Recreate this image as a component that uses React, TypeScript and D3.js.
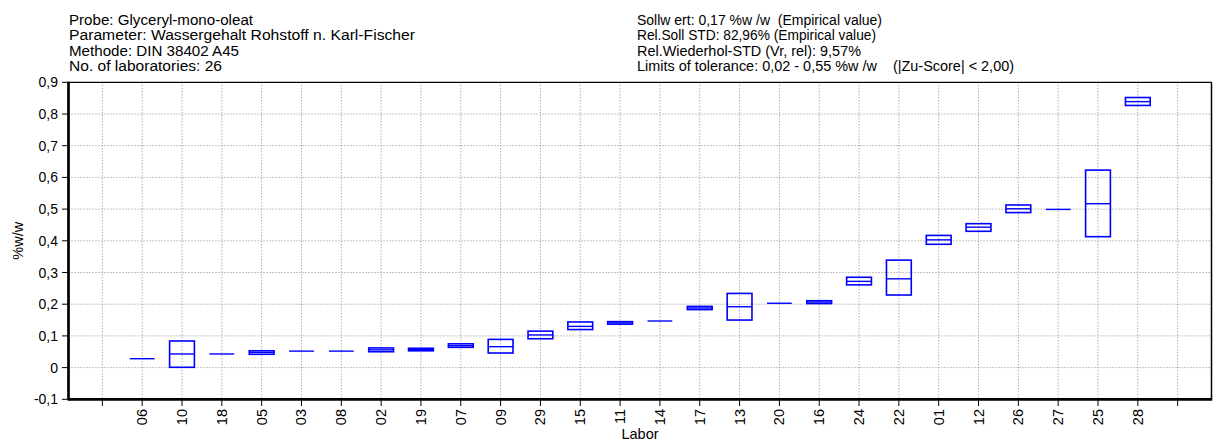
import React from "react";
import * as d3 from "d3";

const labs = ["06","10","18","05","03","08","02","19","07","09","29","15","11","14","17","13","20","16","24","22","01","12","26","27","25","28"];
const lows =    [0.028,0.001,0.043,0.042,0.052,0.052,0.050,0.053,0.064,0.046,0.091,0.120,0.137,0.147,0.183,0.150,0.203,0.202,0.261,0.229,0.389,0.430,0.489,0.499,0.413,0.827];
const medians = [0.028,0.043,0.043,0.048,0.052,0.052,0.056,0.057,0.069,0.066,0.103,0.130,0.141,0.147,0.188,0.192,0.203,0.207,0.272,0.280,0.403,0.443,0.501,0.499,0.517,0.839];
const highs =   [0.028,0.084,0.043,0.053,0.052,0.052,0.062,0.061,0.075,0.089,0.115,0.144,0.145,0.147,0.193,0.234,0.203,0.211,0.285,0.339,0.417,0.454,0.513,0.499,0.623,0.852];
const yTicks = [-0.1,0,0.1,0.2,0.3,0.4,0.5,0.6,0.7,0.8,0.9];
const headerLeft = [
  "Probe: Glyceryl-mono-oleat",
  "Parameter: Wassergehalt Rohstoff n. Karl-Fischer",
  "Methode: DIN 38402 A45",
  "No. of laboratories: 26",
];
const headerRight = [
  "Sollw ert: 0,17 %w /w  (Empirical value)",
  "Rel.Soll STD: 82,96% (Empirical value)",
  "Rel.Wiederhol-STD (Vr, rel): 9,57%",
  "Limits of tolerance: 0,02 - 0,55 %w /w    (|Zu-Score| < 2,00)",
];
const headerLeftWidths = [184, 346, 170, 153];
const headerRightWidths = [245, 239, 224, 377];
const yTitle = "%w/w";
const xTitle = "Labor";

const W = 1216, H = 441;
const L = 68.5, R = 1211.5, T = 82.3, B = 399.3;
const FONT = "'Liberation Sans', Arial, sans-serif";
const BLUE = "#0000ff";

export default function App() {
  const slots = ["_a", ...labs, "_b"];
  const x = d3.scalePoint<string>().domain(slots).range([L, R]).padding(0.85);
  const y = d3.scaleLinear().domain([-0.1, 0.9]).range([B, T]);
  const fmt = (v: number) => (Math.abs(v) < 1e-9 ? "0" : d3.format(".1f")(v).replace(".", ",").replace("−", "-"));
  const bw = 24.8;
  const hdrY = [24.5, 40, 55.5, 71];

  return (
    <svg width={W} height={H} style={{ position: "absolute", left: 0, top: 0, background: "#fff" }} fontFamily={FONT}>
      <rect x={0} y={0} width={W} height={H} fill="#fff" />
      {headerLeft.map((t, i) => (
        <text key={"hl" + i} x={69} y={hdrY[i]} fontSize={14} textLength={headerLeftWidths[i]} lengthAdjust="spacingAndGlyphs" fill="#000">{t}</text>
      ))}
      {headerRight.map((t, i) => (
        <text key={"hr" + i} x={637} y={hdrY[i]} fontSize={14} textLength={headerRightWidths[i]} lengthAdjust="spacingAndGlyphs" fill="#000" style={{ whiteSpace: "pre" }}>{t}</text>
      ))}
      {/* grid */}
      {yTicks.filter(v => v > -0.1 + 1e-9 && v < 0.9 - 1e-9).map(v => (
        <line key={"gy" + v} x1={L} x2={R} y1={y(v)} y2={y(v)} stroke="#8a8a8a" strokeWidth={1} strokeDasharray="1,2" />
      ))}
      {slots.map(s => (
        <line key={"gx" + s} x1={x(s)} x2={x(s)} y1={T} y2={B} stroke="#8a8a8a" strokeWidth={1} strokeDasharray="1,2" />
      ))}
      {/* boxes */}
      {labs.map((lab, i) => {
        const cx = x(lab)!;
        const y1 = y(highs[i]), y0 = y(lows[i]), ym = y(medians[i]);
        return (
          <g key={"b" + lab}>
            {highs[i] - lows[i] > 1e-9 && (
              <rect x={cx - bw / 2} y={y1} width={bw} height={y0 - y1} fill="none" stroke={BLUE} strokeWidth={1.6} />
            )}
            <line x1={cx - bw / 2} x2={cx + bw / 2} y1={ym} y2={ym} stroke={BLUE} strokeWidth={1.4} />
          </g>
        );
      })}
      {/* frame */}
      <line x1={L} x2={R} y1={T} y2={T} stroke="#000" strokeWidth={1.3} />
      <line x1={R} x2={R} y1={T} y2={B} stroke="#000" strokeWidth={1.5} />
      <line x1={L} x2={L} y1={T - 0.6} y2={B + 1.3} stroke="#000" strokeWidth={2.7} />
      <line x1={L} x2={R + 0.7} y1={B} y2={B} stroke="#000" strokeWidth={2.7} />
      {/* y ticks */}
      {yTicks.map(v => (
        <g key={"yt" + v}>
          <line x1={62} x2={L} y1={y(v)} y2={y(v)} stroke="#000" strokeWidth={1} />
          <text x={58} y={y(v)} fontSize={14} textAnchor="end" dominantBaseline="central" fill="#000">{fmt(v)}</text>
        </g>
      ))}
      {/* x ticks */}
      {slots.map(s => (
        <line key={"xt" + s} x1={x(s)} x2={x(s)} y1={B} y2={406} stroke="#000" strokeWidth={1} />
      ))}
      {labs.map(lab => (
        <text key={"xl" + lab} transform={`translate(${x(lab)},409) rotate(-90)`} fontSize={14.5} textAnchor="end" dominantBaseline="central" fill="#000">{lab}</text>
      ))}
      <text x={(L + R) / 2} y={439} fontSize={14.5} textAnchor="middle" fill="#000">{xTitle}</text>
      <text transform={`translate(18,${(T + B) / 2}) rotate(-90)`} fontSize={14.5} textAnchor="middle" dominantBaseline="central" fill="#000">{yTitle}</text>
    </svg>
  );
}
